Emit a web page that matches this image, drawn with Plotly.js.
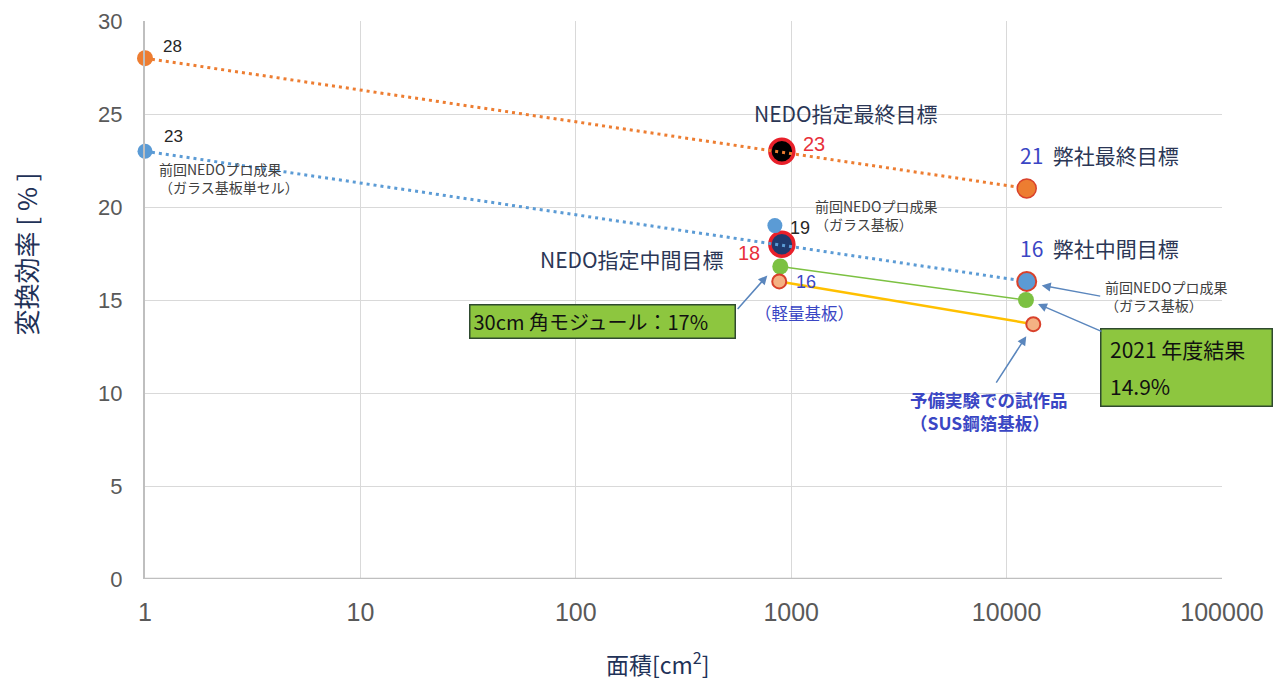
<!DOCTYPE html>
<html>
<head>
<meta charset="utf-8">
<script src="https://cdn.plot.ly/plotly-3.0.1.min.js"></script>
<style>html,body{margin:0;padding:0;background:#fff;}#chart{width:1275px;height:684px;}</style>
</head>
<body>
<div id="chart"></div>
<script>
// ---- data ----
const companyFinalX = [1, 12400];   // orange dotted: 28 -> 21
const companyFinalY = [28, 21];
const companyMidX = [1, 12400];     // blue dotted: 23 -> 16
const companyMidY = [23, 16];
const prevGlassX = [840];
const prevGlassY = [19];
const nedoFinalX = [905];
const nedoFinalY = [23];
const nedoMidX = [905];
const nedoMidY = [18];
const resultX = [890, 12300];       // green: 30cm module 17% -> 2021 result
const resultY = [16.8, 15.0];
const susX = [880, 13300];          // SUS foil prototypes
const susY = [16, 13.7];
const xTickVals = [1, 10, 100, 1000, 10000, 100000];
const xTickText = ['1', '10', '100', '1000', '10000', '100000'];
const yTickVals = [0, 5, 10, 15, 20, 25, 30];

const ORANGE = '#ED7D31', BLUE = '#5B9BD5', GREEN = '#7CC142', YELLOW = '#FFC000', RED = '#E8202A';
const NAVY_TXT = '#2B3655', BLUE_TXT = '#3A46C4', RED_TXT = '#E8303A', ARROW = '#5A86BD';
const CJK = '"Noto Sans CJK JP", "Noto Sans", sans-serif';
const NUM = '"Liberation Sans", Arial, sans-serif';

const base = {type: 'scatter', cliponaxis: false, hoverinfo: 'skip'};
const traces = [
  // NEDO targets (drawn first so the dotted lines pass over them)
  Object.assign({x: nedoFinalX, y: nedoFinalY, mode: 'markers',
   marker: {size: 24, color: '#000000', line: {color: RED, width: 3.5}}}, base),
  Object.assign({x: nedoMidX, y: nedoMidY, mode: 'markers',
   marker: {size: 24, color: '#1F3A6E', line: {color: RED, width: 3.5}}}, base),
  // dotted trend lines
  Object.assign({x: companyFinalX, y: companyFinalY, mode: 'lines',
   line: {color: ORANGE, width: 3, dash: '3px,4px'}}, base),
  Object.assign({x: companyMidX, y: companyMidY, mode: 'lines',
   line: {color: BLUE, width: 3, dash: '3px,4px'}}, base),
  // end markers
  Object.assign({x: [companyFinalX[0]], y: [companyFinalY[0]], mode: 'markers',
   marker: {size: 16, color: ORANGE}}, base),
  Object.assign({x: [companyFinalX[1]], y: [companyFinalY[1]], mode: 'markers',
   marker: {size: 19, color: ORANGE, line: {color: '#D9412B', width: 1.5}}}, base),
  Object.assign({x: [companyMidX[0]], y: [companyMidY[0]], mode: 'markers',
   marker: {size: 15, color: BLUE}}, base),
  Object.assign({x: [companyMidX[1]], y: [companyMidY[1]], mode: 'markers',
   marker: {size: 19, color: BLUE, line: {color: '#D9412B', width: 2}}}, base),
  Object.assign({x: prevGlassX, y: prevGlassY, mode: 'markers',
   marker: {size: 15, color: BLUE}}, base),
  // results
  Object.assign({x: resultX, y: resultY, mode: 'lines+markers',
   line: {color: GREEN, width: 1.5}, marker: {size: 16, color: GREEN}}, base),
  Object.assign({x: susX, y: susY, mode: 'lines+markers',
   line: {color: YELLOW, width: 2.5},
   marker: {size: 14, color: '#F4B183', line: {color: '#D9412B', width: 2}}}, base)
];

const L = v => Math.log10(v);
function lbl(x, y, text, dx, dy, o) {
  o = o || {};
  return Object.assign({
    x: L(x), y: y, xref: 'x', yref: 'y', text: text, showarrow: false,
    xshift: dx, yshift: dy, xanchor: o.xa || 'left', yanchor: 'middle', align: o.align || 'left',
    font: {family: o.family || CJK, size: o.size || 13, color: o.color || '#404040'}
  }, o.extra || {});
}
function arrow(x, y, dx, dy, ax, ay) {
  return {x: L(x), y: y, xref: 'x', yref: 'y', text: '', showarrow: true,
    xshift: dx, yshift: dy, ax: ax, ay: ay, arrowhead: 2, arrowsize: 1.2, arrowwidth: 1.5,
    arrowcolor: ARROW, standoff: 0, startstandoff: 0};
}
const BOX = {bgcolor: '#8DC63F', bordercolor: '#2F4A2F', borderwidth: 1.5, borderpad: 3};

const annotations = [
  lbl(companyFinalX[0], companyFinalY[0], '28', 16, 12, {family: NUM, size: 17, color: '#262626'}),
  lbl(companyMidX[0], companyMidY[0], '23', 17, 15, {family: NUM, size: 17, color: '#262626'}),
  lbl(companyMidX[0], companyMidY[0], '前回NEDOプロ成果<br>（ガラス基板単セル）', 12, -27, {size: 14}),
  lbl(nedoFinalX[0], nedoFinalY[0], 'NEDO指定最終目標', 64, 38, {xa: 'center', size: 21, color: NAVY_TXT}),
  lbl(nedoFinalX[0], nedoFinalY[0], '23', 19, 7, {family: NUM, size: 20, color: RED_TXT}),
  lbl(prevGlassX[0], prevGlassY[0], '19', 13, -2, {family: NUM, size: 18, color: '#262626'}),
  lbl(prevGlassX[0], prevGlassY[0], '前回NEDOプロ成果<br>（ガラス基板）', 38, 11, {size: 14}),
  lbl(nedoMidX[0], nedoMidY[0], '18', -20, -9, {xa: 'right', family: NUM, size: 20, color: RED_TXT}),
  lbl(nedoMidX[0], nedoMidY[0], 'NEDO指定中間目標', -56, -15, {xa: 'right', size: 21, color: NAVY_TXT}),
  lbl(susX[0], susY[0], '16', 15, -1, {family: NUM, size: 18, color: BLUE_TXT}),
  lbl(susX[0], susY[0], '（軽量基板）', 25, -32, {xa: 'center', size: 16.5, color: BLUE_TXT}),
  lbl(companyFinalX[1], companyFinalY[1], '<span style="color:' + BLUE_TXT + '">21</span>  弊社最終目標', -9, 33, {size: 21, color: NAVY_TXT}),
  lbl(companyMidX[1], companyMidY[1], '<span style="color:' + BLUE_TXT + '">16</span>  弊社中間目標', -9, 33, {size: 21, color: NAVY_TXT}),
  lbl(companyMidX[1], companyMidY[1], '前回NEDOプロ成果<br>（ガラス基板）', 76, -15, {size: 14}),
  lbl(susX[1], susY[1], '<b>予備実験での試作品<br>（SUS鋼箔基板）</b>', -125, -87, {size: 17.5, color: BLUE_TXT}),
  // green boxes
  Object.assign(lbl(resultX[0], resultY[0], '30cm 角モジュール：17%', -178, -55,
    {xa: 'center', size: 20, color: '#111111'}), BOX, {width: 258, height: 26}),
  Object.assign(lbl(resultX[1], resultY[1], ' ', 161, -67, {xa: 'center', size: 18}),
    BOX, {width: 164, height: 70}),
  lbl(resultX[1], resultY[1], '2021 年度結果', 82, -49, {size: 21, color: '#111111'}),
  lbl(resultX[1], resultY[1], '14.9%', 82, -86, {size: 21, color: '#111111'}),
  // arrows
  arrow(resultX[0], resultY[0], -13, -9, -31, 35),
  arrow(companyMidX[1], companyMidY[1], 15, -4, 60, 11),
  arrow(resultX[1], resultY[1], 12, -4, 65, 28),
  arrow(susX[1], susY[1], -7, -12, -31, 48),
  // axis titles
  {x: 0, y: 0.5, xref: 'paper', yref: 'paper', text: '変換効率 [ % ]', textangle: -90, showarrow: false,
   xshift: -141, yshift: 46, font: {family: CJK, size: 26, color: '#1F3258'}},
  {x: 0.5, y: 0, xref: 'paper', yref: 'paper', text: '面積[cm<sup>2</sup>]', showarrow: false,
   xshift: -26, yshift: -84, yanchor: 'middle', font: {family: CJK, size: 23, color: '#1F3258'}}
];

const layout = {
  width: 1275, height: 684,
  margin: {l: 145, r: 53, t: 21, b: 105},
  paper_bgcolor: '#ffffff', plot_bgcolor: '#ffffff',
  showlegend: false,
  xaxis: {type: 'log', range: [0, 5], tickvals: xTickVals, ticktext: xTickText,
    showgrid: true, gridcolor: '#D9D9D9', gridwidth: 1, zeroline: false,
    showline: false, ticks: '', ticklen: 0, ticklabelstandoff: 16,
    tickfont: {family: '"Liberation Sans", sans-serif', size: 25, color: '#595959'}},
  yaxis: {range: [0, 30], tickvals: yTickVals, showgrid: true, gridcolor: '#D9D9D9', gridwidth: 1,
    zeroline: false, showline: true, linecolor: '#BFBFBF', linewidth: 2, ticks: '', ticklabelstandoff: 16,
    tickfont: {family: '"Liberation Sans", sans-serif', size: 22, color: '#595959'}},
  shapes: [{type: 'line', xref: 'paper', yref: 'y', x0: 0, x1: 1, y0: 0, y1: 0,
    line: {color: '#BFBFBF', width: 2.5}}],
  annotations: annotations
};

Plotly.newPlot('chart', traces, layout, {displayModeBar: false, staticPlot: true});
</script>
</body>
</html>
